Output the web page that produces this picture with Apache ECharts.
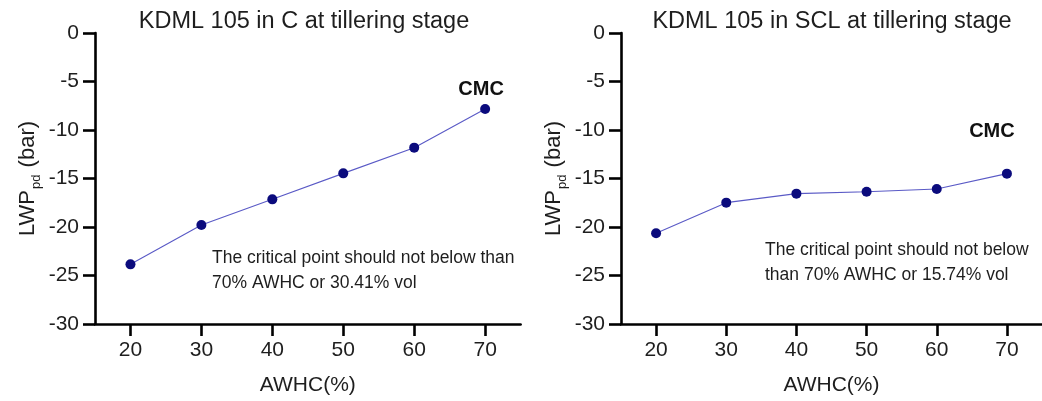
<!DOCTYPE html>
<html>
<head>
<meta charset="utf-8">
<script src="https://cdn.jsdelivr.net/npm/echarts@6/dist/echarts.min.js"></script>
<style>html,body{margin:0;padding:0;background:#fff;}#c{width:1042px;height:401px;}</style>
</head>
<body>
<div id="c"></div>
<script>
const awhc = [20, 30, 40, 50, 60, 70];
const lwpC = [-23.85, -19.8, -17.15, -14.47, -11.82, -7.84];
const lwpSCL = [-20.65, -17.49, -16.56, -16.36, -16.08, -14.5];
const titles = ['KDML 105 in C at tillering stage', 'KDML 105 in SCL at tillering stage'];
const notes = ['The critical point should not below than\n70% AWHC or 30.41% vol', 'The critical point should not below\nthan 70% AWHC or 15.74% vol'];
const yTicks = {min: -30, max: 0, interval: 5};
const xRange = {min: 15, max: 75};

const FONT = 'Liberation Sans, Arial, sans-serif';
const TXT = '#1e1e1e';
const chart = echarts.init(document.getElementById('c'));

function mkX(i) {
  return {
    type: 'value', gridIndex: i, min: xRange.min, max: xRange.max,
    axisLine: {show: true, onZero: false, lineStyle: {color: '#000', width: 2.6}},
    axisTick: {show: true, length: 12, lineStyle: {color: '#000', width: 2.6},
      customValues: awhc},
    axisLabel: {color: TXT, fontSize: 21, fontFamily: FONT, margin: 16,
      customValues: awhc},
    splitLine: {show: false},
    name: 'AWHC(%)', nameLocation: 'middle', nameGap: 51,
    nameTextStyle: {color: TXT, fontSize: 21, fontFamily: FONT}
  };
}
function mkY(i) {
  return {
    type: 'value', gridIndex: i, min: yTicks.min, max: yTicks.max, interval: yTicks.interval,
    axisLine: {show: true, onZero: false, lineStyle: {color: '#000', width: 2.6}},
    axisTick: {show: true, length: 12, lineStyle: {color: '#000', width: 2.6}},
    axisLabel: {color: TXT, fontSize: 21, fontFamily: FONT, margin: 16},
    splitLine: {show: false},
    name: '{m|LWP}{sub|pd}{m| (bar)}', nameLocation: 'middle', nameGap: 56, nameRotate: 90,
    nameTextStyle: {color: TXT, fontSize: 22, fontFamily: FONT,
      rich: {
        m: {fontSize: 22, lineHeight: 22, fontFamily: FONT, color: TXT, verticalAlign: 'top'},
        sub: {fontSize: 13, lineHeight: 13, fontFamily: FONT, color: TXT, verticalAlign: 'top', padding: [13, 1, 0, 1]}
      }}
  };
}
function mkSeries(i, vals, off) {
  const data = awhc.map((x, k) => {
    const d = {value: [x, vals[k]]};
    if (k === awhc.length - 1) {
      d.label = {show: true, formatter: 'CMC', position: 'top', distance: 5, offset: off,
        fontWeight: 'bold', fontSize: 20, fontFamily: FONT, color: '#111'};
    }
    return d;
  });
  return {
    type: 'line', xAxisIndex: i, yAxisIndex: i, data: data,
    symbol: 'circle', symbolSize: 10,
    itemStyle: {color: '#0b0b7d'},
    lineStyle: {color: '#5a5ac6', width: 1.1},
    emphasis: {disabled: true}, animation: false
  };
}

chart.setOption({
  animation: false,
  title: [
    {text: titles[0], left: 304, top: 10, textAlign: 'center', padding: 0,
      textStyle: {fontSize: 23.5, fontWeight: 'normal', color: TXT, fontFamily: FONT}},
    {text: titles[1], left: 832, top: 10, textAlign: 'center', padding: 0,
      textStyle: {fontSize: 23.5, fontWeight: 'normal', color: TXT, fontFamily: FONT}}
  ],
  grid: [
    {left: 95, top: 33, width: 425.6, height: 291},
    {left: 621, top: 33, width: 424, height: 291}
  ],
  xAxis: [mkX(0), mkX(1)],
  yAxis: [mkY(0), mkY(1)],
  series: [mkSeries(0, lwpC, [-4, 0]), mkSeries(1, lwpSCL, [-15, -22])],
  graphic: [
    {type: 'text', x: 212, y: 246, style: {text: notes[0], fontSize: 17.5, lineHeight: 25, fontFamily: FONT, fill: TXT}},
    {type: 'text', x: 765, y: 238, style: {text: notes[1], fontSize: 17.5, lineHeight: 25, fontFamily: FONT, fill: TXT}}
  ]
});
</script>
</body>
</html>
